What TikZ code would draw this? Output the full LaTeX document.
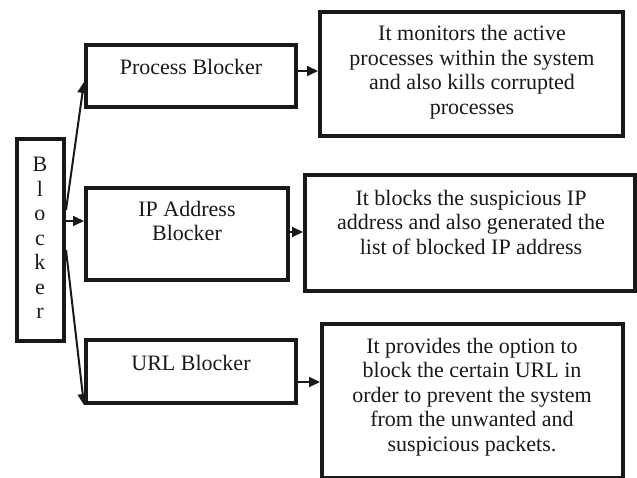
\documentclass[tikz,border=0pt]{standalone}
\usepackage{fontspec}
\setmainfont{Liberation Serif}
\usetikzlibrary{arrows.meta}

\begin{document}
\begin{tikzpicture}[x=1pt,y=-1pt,
  box/.style={draw=black!90,line width=4pt,inner sep=0pt},
  lbl/.style={font=\fontsize{22}{24.5}\selectfont,align=center,inner sep=0pt,text=black!90},
  arr/.style={draw=black!90,line width=2pt,-{Triangle[length=11pt,width=10pt]}}]
  \useasboundingbox (0,0) rectangle (637,477);

  % Blocker column
  \node[box,minimum width=47pt,minimum height=202pt] (blk) at (40.5,240) {};
  \node[lbl] (blkt) at (40,238) {B\\l\\o\\c\\k\\e\\r};

  % middle boxes
  \node[box,minimum width=210pt,minimum height=62pt] (proc) at (191,76) {};
  \node[lbl] (proct) at (191,67) {Process Blocker};

  \node[box,minimum width=202pt,minimum height=92pt] (ip) at (187,234) {};
  \node[lbl] (ipt) at (187,221) {IP Address\\Blocker};

  \node[box,minimum width=210pt,minimum height=63pt] (url) at (191,371.5) {};
  \node[lbl] (urlt) at (191,363) {URL Blocker};

  % description boxes
  \node[box,minimum width=303pt,minimum height=124pt] (dproc) at (471.5,74) {};
  \node[lbl] (dproct) at (472,72) {It monitors the active\\processes within the system\\and also kills corrupted\\processes};

  \node[box,minimum width=330pt,minimum height=116pt] (dip) at (470,233) {};
  \node[lbl] (dipt) at (471,222) {It blocks the suspicious IP\\address and also generated the\\list of blocked IP address};

  \node[box,minimum width=301pt,minimum height=154pt] (durl) at (472.5,401) {};
  \node[lbl] (durlt) at (472,397) {It provides the option to\\block the certain URL in\\order to prevent the system\\from the unwanted and\\suspicious packets.};

  % connectors
  \draw[arr] ([yshift=30pt]blk.east) -- ([yshift=-6pt]proc.west);
  \draw[arr] ([yshift=19pt]blk.east) -- ([yshift=19pt]blk.east -| ip.west);
  \draw[arr] ([yshift=-10pt]blk.east) -- (url.south west);

  \draw[arr] ([yshift=5pt]proc.east) -- ([yshift=5pt]proc.east -| dproc.west);
  \draw[arr] ([yshift=2pt]ip.east) -- ([yshift=2pt]ip.east -| dip.west);
  \draw[arr] ([yshift=-10.5pt]url.east) -- ([yshift=-10.5pt]url.east -| durl.west);
\end{tikzpicture}
\end{document}
